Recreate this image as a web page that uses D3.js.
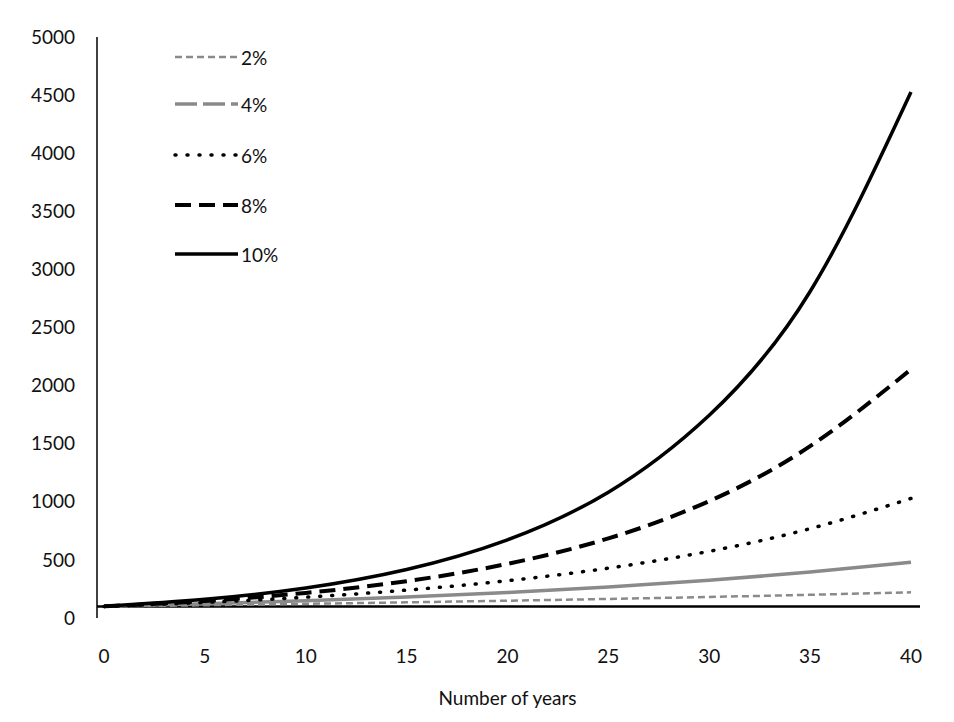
<!DOCTYPE html>
<html><head><meta charset="utf-8">
<script src="https://cdn.jsdelivr.net/npm/d3@7"></script>
<style>body{margin:0;background:#fff}text{font-family:Lato,"Open Sans",sans-serif;fill:#111}</style>
</head><body><svg id="chart" width="954" height="722"></svg>
<script>
// values, every 5 years
const years = [0, 5, 10, 15, 20, 25, 30, 35, 40];
const rate2 = [100, 110, 122, 135, 149, 164, 181, 200, 221];
const rate4 = [100, 122, 148, 180, 219, 267, 324, 395, 480];
const rate6 = [100, 134, 179, 240, 321, 429, 574, 769, 1029];
const rate8 = [100, 147, 216, 317, 466, 685, 1006, 1479, 2140];
const rate10 = [100, 161, 259, 418, 673, 1083, 1745, 2810, 4526];
const labels = ["2%", "4%", "6%", "8%", "10%"];
const yTicks = d3.range(0, 5001, 500);

const series = [
  { name: labels[0], values: rate2, color: "#8a8a8a", width: 2.5, dash: "7,4" },
  { name: labels[1], values: rate4, color: "#8a8a8a", width: 3.5, dash: null },
  { name: labels[2], values: rate6, color: "#000", width: 3.5, dash: "1,11", cap: "round" },
  { name: labels[3], values: rate8, color: "#000", width: 4, dash: "16,8" },
  { name: labels[4], values: rate10, color: "#000", width: 3.5, dash: null }
];
const legendDash = ["7,4", "22,6", "1,11", "16,8", null];

const svg = d3.select("#chart");
const x = d3.scaleLinear().domain([0, 40]).range([104, 911]);
const y = d3.scaleLinear().domain([0, 5000]).range([618, 37]);

// y axis
svg.append("line").attr("x1", 97).attr("x2", 97).attr("y1", y(5000)).attr("y2", y(0))
  .attr("stroke", "#000").attr("stroke-width", 1.5);
svg.selectAll(".yt").data(yTicks).enter().append("text")
  .attr("x", 75).attr("y", d => y(d)).attr("dy", "0.35em")
  .attr("text-anchor", "end").attr("font-size", 19).text(d => d);

// baseline at 100
svg.append("line").attr("x1", 97).attr("x2", 920).attr("y1", y(100)).attr("y2", y(100))
  .attr("stroke", "#000").attr("stroke-width", 2.5);

// x tick labels
svg.selectAll(".xt").data(d3.range(0, 41, 5)).enter().append("text")
  .attr("x", d => x(d)).attr("y", 663).attr("text-anchor", "middle")
  .attr("font-size", 19).text(d => d);
svg.append("text").attr("x", x(20)).attr("y", 705).attr("text-anchor", "middle")
  .attr("font-size", 19).text("Number of years");

const line = d3.line().x((d, i) => x(years[i])).y(d => y(d)).curve(d3.curveNatural);
svg.selectAll(".series").data(series).enter().append("path")
  .attr("d", d => line(d.values)).attr("fill", "none")
  .attr("stroke", d => d.color).attr("stroke-width", d => d.width)
  .attr("stroke-dasharray", d => d.dash).attr("stroke-linecap", d => d.cap || "butt");

// legend
const lg = svg.selectAll(".lg").data(series).enter().append("g")
  .attr("transform", (d, i) => `translate(175,${[57, 104, 155, 205, 254][i]})`);
lg.append("line").attr("x1", 0).attr("x2", 63).attr("stroke", d => d.color)
  .attr("stroke-width", d => d.width).attr("stroke-dasharray", (d, i) => legendDash[i])
  .attr("stroke-linecap", d => d.cap || "butt");
lg.append("text").attr("x", 66).attr("dy", "0.4em").attr("font-size", 19).text(d => d.name);
</script></body></html>
